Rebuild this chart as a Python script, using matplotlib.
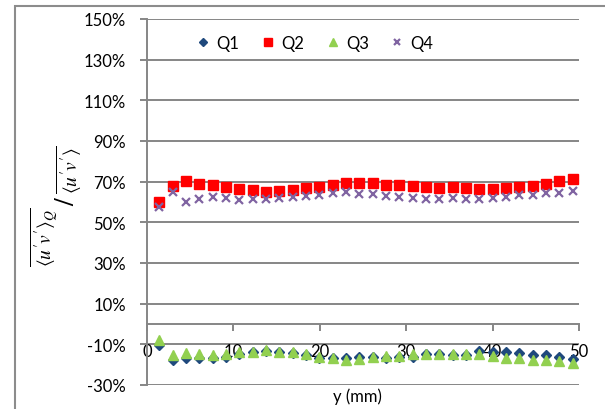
import matplotlib
matplotlib.use("Agg")
import matplotlib.pyplot as plt
from matplotlib.patches import Rectangle
from matplotlib.ticker import FuncFormatter

plt.rcParams['font.family'] = ['Lato', 'DejaVu Sans']
plt.rcParams['mathtext.fontset'] = 'stix'

y_mm = [1.43, 2.97, 4.51, 6.06, 7.60, 9.14, 10.69, 12.23, 13.77, 15.32, 16.86,
        18.40, 19.95, 21.49, 23.03, 24.58, 26.12, 27.66, 29.21, 30.75, 32.29,
        33.84, 35.38, 36.92, 38.47, 40.01, 41.55, 43.10, 44.64, 46.18, 47.73, 49.27]

q1 = [-10.3, -17.9, -16.9, -16.9, -16.9, -16.2, -14.9, -14.0, -13.1, -13.9, -14.3,
      -15.2, -16.6, -16.9, -16.6, -16.2, -16.2, -16.6, -16.2, -16.2, -14.9, -14.9,
      -15.1, -15.2, -13.3, -13.6, -13.6, -14.3, -15.2, -15.4, -16.2, -17.2]
q2 = [60.2, 68.0, 70.2, 69.0, 68.5, 67.2, 66.4, 65.7, 65.1, 65.2, 65.9, 66.7,
      67.2, 68.2, 69.3, 69.5, 69.3, 68.5, 68.5, 67.9, 67.2, 67.0, 67.4, 66.7,
      66.5, 66.5, 66.9, 67.4, 68.0, 69.0, 70.2, 71.3]
q3 = [-8.0, -15.4, -14.3, -14.6, -15.4, -14.6, -13.6, -13.6, -12.9, -13.6, -13.6,
      -14.6, -16.2, -16.9, -17.9, -17.4, -16.2, -15.7, -15.7, -14.9, -14.6, -14.6,
      -14.9, -14.6, -14.9, -15.7, -16.9, -16.9, -17.5, -17.9, -18.2, -19.0]
q4 = [57.4, 64.8, 59.9, 61.5, 62.6, 62.0, 61.1, 61.5, 61.5, 61.8, 62.3, 63.1,
      63.6, 64.6, 64.8, 63.9, 63.8, 62.8, 62.6, 62.0, 61.5, 61.5, 61.8, 61.6,
      61.5, 61.8, 62.3, 63.2, 63.6, 64.3, 64.6, 65.6]

series_names = ['Q1', 'Q2', 'Q3', 'Q4']
x_ticks = [0, 10, 20, 30, 40, 50]
y_ticks = [-30, -10, 10, 30, 50, 70, 90, 110, 130, 150]

W, H = 605, 410
fig = plt.figure(figsize=(W / 100, H / 100), dpi=100)

# outer chart border
fig.patches.append(Rectangle((14.5 / W, -0.1), 1.2, 1 - 6.5 / H + 0.1,
                             transform=fig.transFigure, fill=False,
                             edgecolor='#8c8c8c', linewidth=1.5))

L, R, T, B = 147, 579, 20, 386
ax = fig.add_axes([L / W, 1 - B / H, (R - L) / W, (B - T) / H])

grey = '#868686'
for yv in y_ticks:
    ax.axhline(yv, color=grey, linewidth=1.4, zorder=1)

ax.plot(y_mm, q1, linestyle='none', marker='D', markersize=5.5, color='#1F497D',
        label=series_names[0], zorder=3)
ax.plot(y_mm, q2, linestyle='none', marker='s', markersize=7, color='#FF0000',
        label=series_names[1], zorder=3)
ax.plot(y_mm, q3, linestyle='none', marker='^', markersize=7.8, color='#92D050',
        label=series_names[2], zorder=3)
ax.plot(y_mm, q4, linestyle='none', marker='x', markersize=6, markeredgewidth=1.6,
        color='#8064A2', label=series_names[3], zorder=3)

ax.set_xlim(0, 50)
ax.set_ylim(-30, 150)
ax.set_xticks(x_ticks)
ax.set_yticks(y_ticks)
ax.yaxis.set_major_formatter(FuncFormatter(lambda v, p: f"{int(v)}%"))

for s in ['top', 'right']:
    ax.spines[s].set_visible(False)
ax.spines['bottom'].set_position(('data', 0))
ax.spines['bottom'].set_color(grey)
ax.spines['bottom'].set_linewidth(1.4)
ax.spines['left'].set_color(grey)
ax.spines['left'].set_linewidth(1.4)

ax.tick_params(axis='y', direction='out', length=5, width=1.4, color=grey,
               labelsize=12, pad=10)
ax.tick_params(axis='x', direction='out', length=5, width=1.4, color=grey,
               labelsize=12, pad=9)
ax.patch.set_alpha(0)

leg = ax.legend(loc='center', bbox_to_anchor=(315 / W, 1 - 44 / H),
                bbox_transform=fig.transFigure, ncol=4, frameon=False,
                fontsize=12, handlelength=0.8, handletextpad=0.4,
                columnspacing=1.3, markerscale=0.75)

fig.text(357 / W, 1 - 397 / H, 'y (mm)', ha='center', va='center', fontsize=12)

# y-axis label as a skewed fraction
fig.text(44 / W, 1 - 237 / H, r"$\overline{\langle u'v'\rangle_Q}$", rotation=90,
         ha='center', va='center', fontsize=14)
fig.text(66 / W, 1 - 201 / H, r"$/$", rotation=90, ha='center', va='center',
         fontsize=20)
fig.text(69 / W, 1 - 170 / H, r"$\overline{\langle u'v'\rangle}$", rotation=90,
         ha='center', va='center', fontsize=14)

fig.savefig('out.png', dpi=100)
